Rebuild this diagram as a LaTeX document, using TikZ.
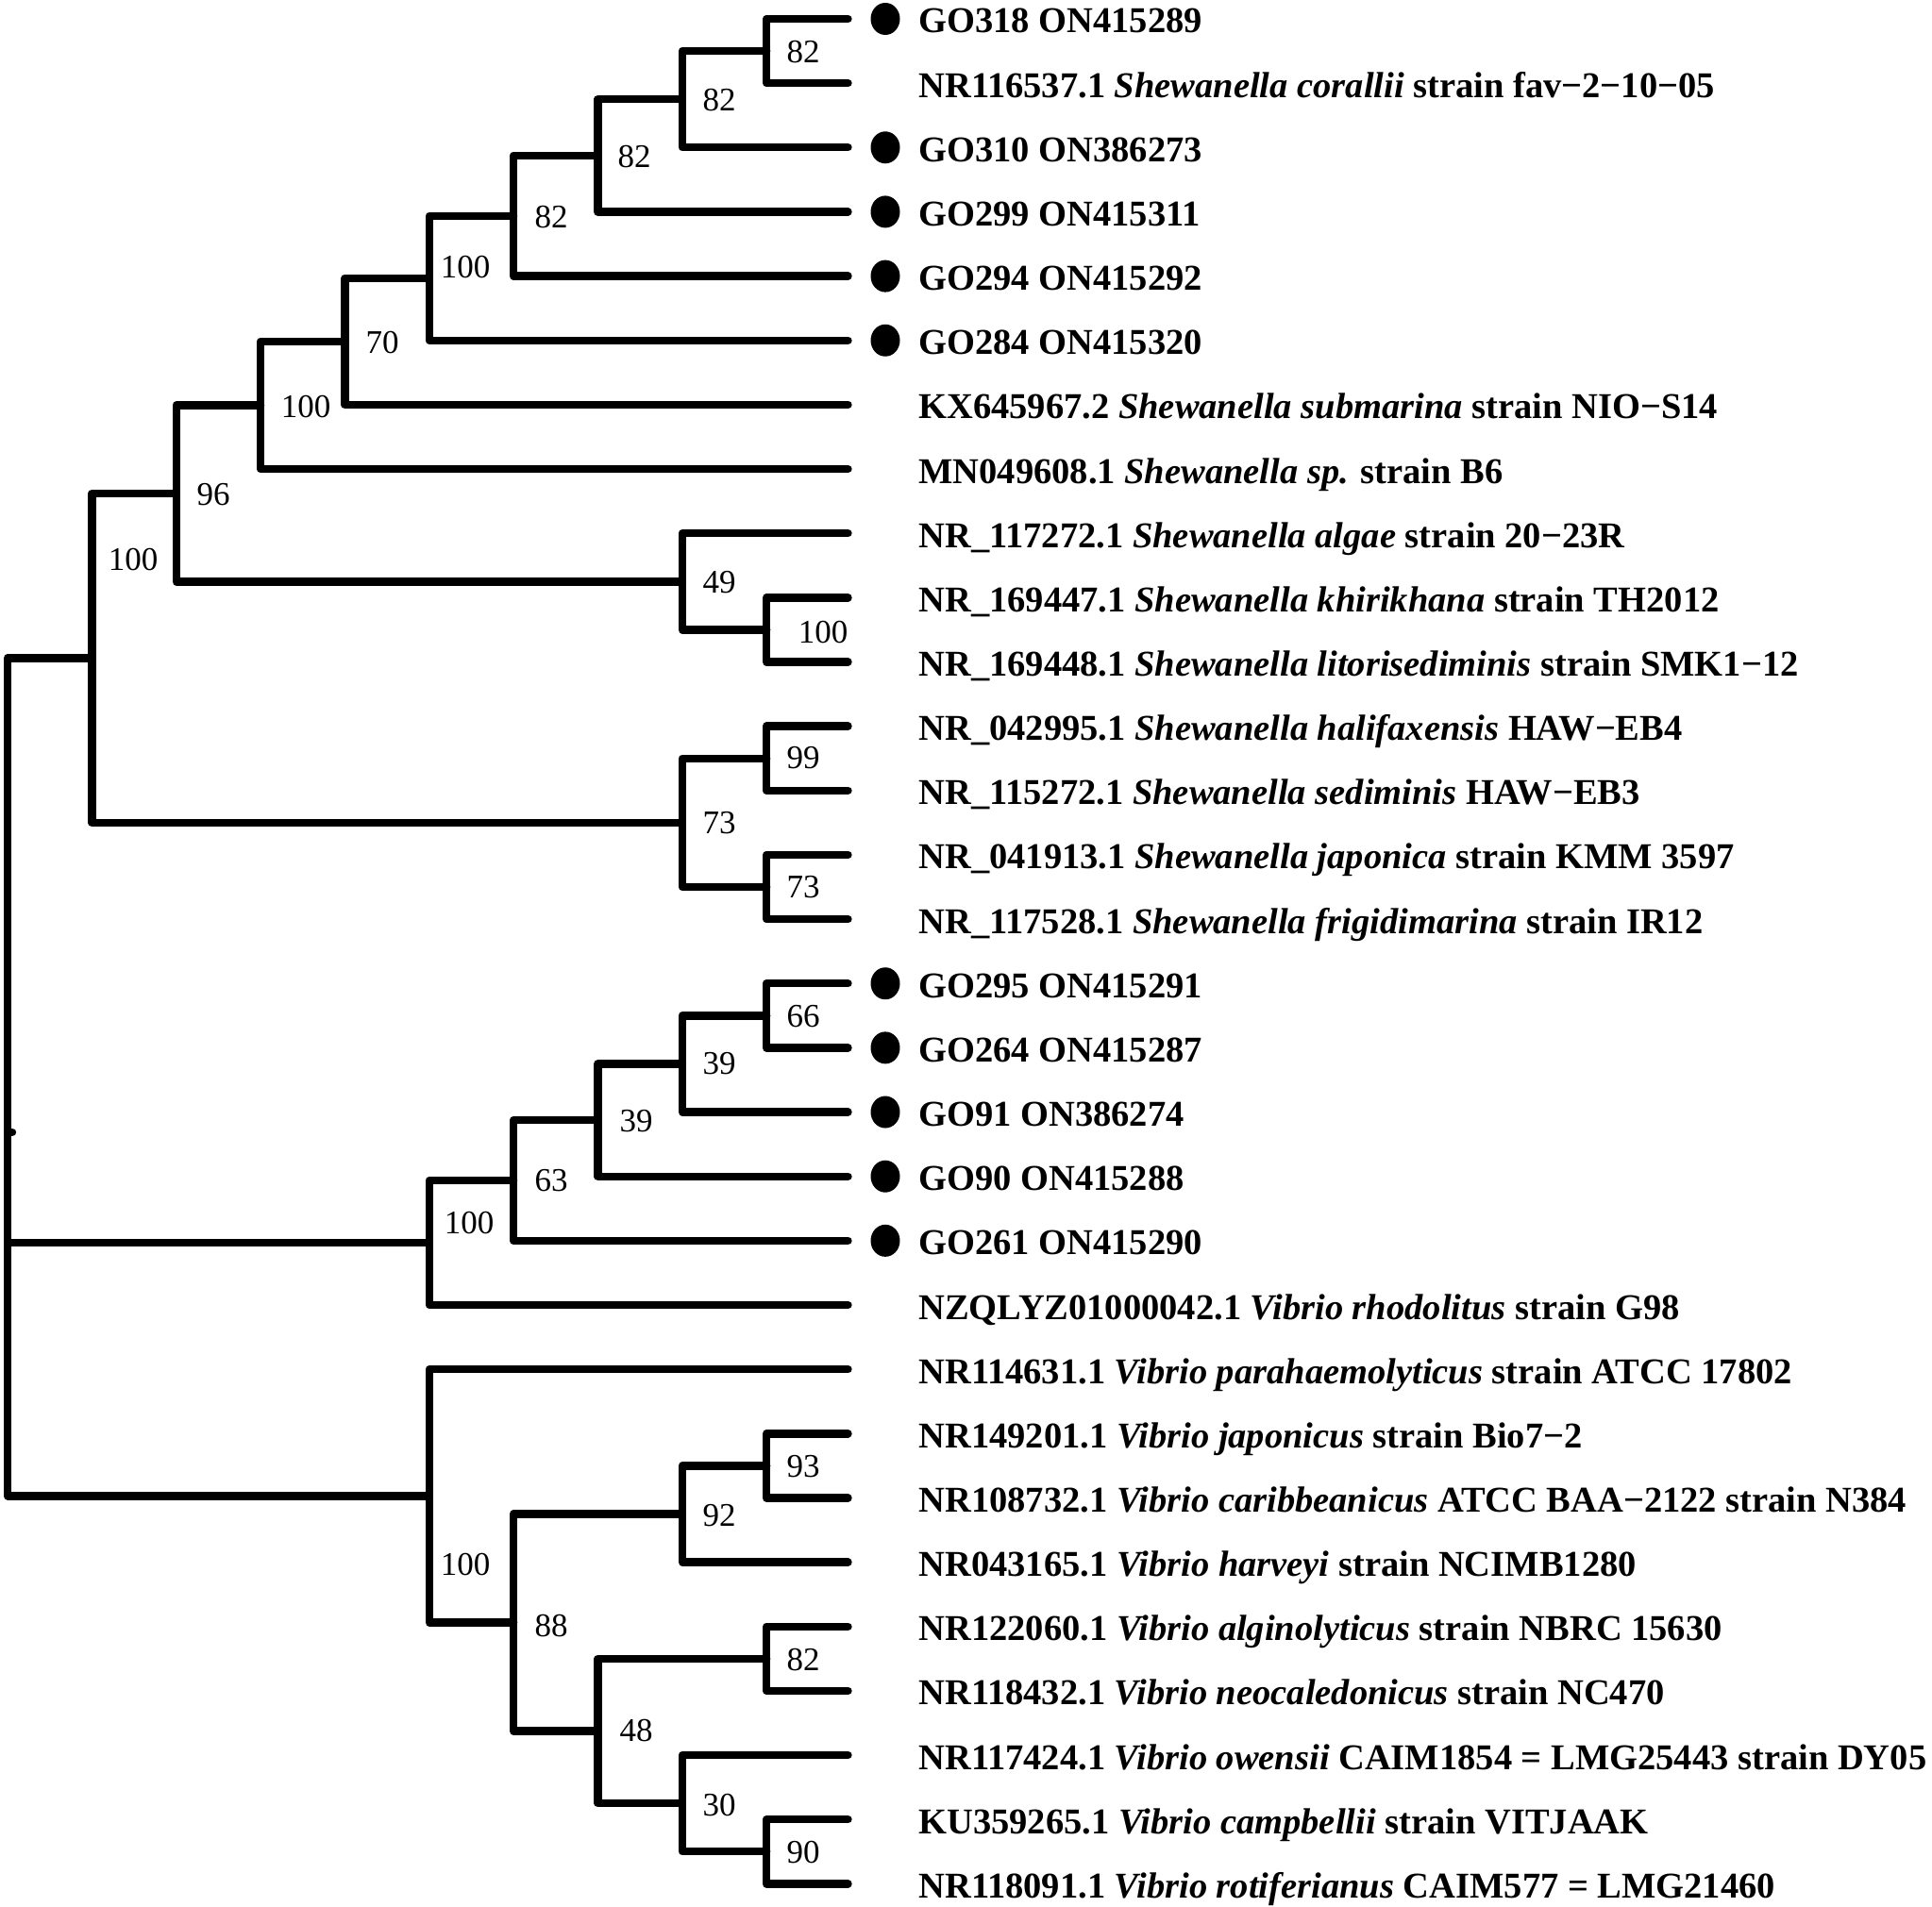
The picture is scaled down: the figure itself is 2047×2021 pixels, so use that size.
\documentclass[tikz,border=0pt]{standalone}
\usepackage{fontspec}
\usetikzlibrary{shapes.geometric}
\setmainfont{Liberation Serif}
\newcommand\Y[1]{20+68.15*(#1)}
\newcommand\X[1]{8+89.35*(#1)}
\begin{document}
\begin{tikzpicture}[x=0.5pt,y=-0.5pt,
  br/.style={line width=4.2pt, line cap=round, line join=round},
  tiplab/.style={anchor=base west, inner sep=0pt, font=\fontsize{19.25}{22}\selectfont\bfseries},
  sup/.style={inner sep=0pt, font=\fontsize{17.5}{20}\selectfont},
  dotm/.style={ellipse, fill=black, inner sep=0pt, minimum width=15.5pt, minimum height=17pt}]
\useasboundingbox (0,0) rectangle (2047,2021);
% tips
\foreach \i in {0,...,29} \coordinate (t\i) at ({\X{10}-3},{\Y{\i}});
% internal nodes
\coordinate (A) at ({\X{9}},{\Y{0.5}});
\coordinate (B) at ({\X{8}},{\Y{1.25}});
\coordinate (C) at ({\X{7}},{\Y{2.125}});
\coordinate (D) at ({\X{6}},{\Y{3.0625}});
\coordinate (E) at ({\X{5}},{\Y{4.03125}});
\coordinate (F) at ({\X{4}},{\Y{5.015625}});
\coordinate (G) at ({\X{3}},{\Y{6.0078125}});
\coordinate (H) at ({\X{9}},{\Y{9.5}});
\coordinate (I) at ({\X{8}},{\Y{8.75}});
\coordinate (N) at ({\X{2}},{\Y{7.37890625}});
\coordinate (J) at ({\X{9}},{\Y{11.5}});
\coordinate (K) at ({\X{9}},{\Y{13.5}});
\coordinate (L) at ({\X{8}},{\Y{12.5}});
\coordinate (O) at ({\X{1}},{\Y{9.939453}});
\coordinate (Q) at ({\X{9}},{\Y{15.5}});
\coordinate (R) at ({\X{8}},{\Y{16.25}});
\coordinate (S) at ({\X{7}},{\Y{17.125}});
\coordinate (T) at ({\X{6}},{\Y{18.0625}});
\coordinate (U) at ({\X{5}},{\Y{19.03125}});
\coordinate (V1) at ({\X{9}},{\Y{22.5}});
\coordinate (V2) at ({\X{8}},{\Y{23.25}});
\coordinate (V3) at ({\X{9}},{\Y{25.5}});
\coordinate (V4) at ({\X{9}},{\Y{28.5}});
\coordinate (V5) at ({\X{8}},{\Y{27.75}});
\coordinate (V6) at ({\X{7}},{\Y{26.625}});
\coordinate (V7) at ({\X{6}},{\Y{24.9375}});
\coordinate (V8) at ({\X{5}},{\Y{22.96875}});
\coordinate (root) at ({\X{0}},{\Y{17.3131}});
\coordinate (rstub) at ({\X{0}+5},{\Y{17.3131}});
% branches
\foreach \p/\c in {root/O, root/U, root/V8, O/N, O/L, N/G, N/I, G/F, G/t7, F/E, F/t6,
  E/D, E/t5, D/C, D/t4, C/B, C/t3, B/A, B/t2, A/t0, A/t1, I/t8, I/H, H/t9, H/t10,
  L/J, L/K, J/t11, J/t12, K/t13, K/t14, U/T, U/t20, T/S, T/t19, S/R, S/t18, R/Q, R/t17,
  Q/t15, Q/t16, V8/t21, V8/V7, V7/V2, V7/V6, V2/V1, V2/t24, V1/t22, V1/t23,
  V6/V3, V6/V5, V3/t25, V3/t26, V5/t27, V5/V4, V4/t28, V4/t29}
  \draw[br] (\p) |- (\c);
\draw[br] (root) -- (rstub);
% dots
\foreach \i in {0,2,3,4,5,15,16,17,18,19} \node[dotm] (d\i) at (938,{\Y{\i}}) {};
% support values
\node[sup] (sA) at (851,55) {82};
\node[sup] (sB) at (762,106) {82};
\node[sup] (sC) at (672,166) {82};
\node[sup] (sD) at (584,230) {82};
\node[sup] (sE) at (493,283) {100};
\node[sup] (sF) at (405,363) {70};
\node[sup] (sG) at (324,431) {100};
\node[sup] (sN) at (226,524) {96};
\node[sup] (sO) at (141,593) {100};
\node[sup] (sI) at (762,617) {49};
\node[sup] (sH) at (872,670) {100};
\node[sup] (sJ) at (851,803) {99};
\node[sup] (sL) at (762,872) {73};
\node[sup] (sK) at (851,940) {73};
\node[sup] (sQ) at (851,1077) {66};
\node[sup] (sR) at (762,1127) {39};
\node[sup] (sS) at (674,1188) {39};
\node[sup] (sT) at (584,1251) {63};
\node[sup] (sU) at (497,1296) {100};
\node[sup] (sV1) at (851,1554) {93};
\node[sup] (sV2) at (762,1606) {92};
\node[sup] (sV8) at (493,1658) {100};
\node[sup] (sV7) at (584,1723) {88};
\node[sup] (sV3) at (851,1759) {82};
\node[sup] (sV6) at (674,1834) {48};
\node[sup] (sV5) at (762,1913) {30};
\node[sup] (sV4) at (851,1963) {90};
% tip labels
\node[tiplab] (l0) at (973,{\Y{0}+15}) {GO318 ON415289};
\node[tiplab] (l1) at (973,{\Y{1}+15}) {NR116537.1 {\itshape Shewanella corallii} strain fav−2−10−05};
\node[tiplab] (l2) at (973,{\Y{2}+15}) {GO310 ON386273};
\node[tiplab] (l3) at (973,{\Y{3}+15}) {GO299 ON415311};
\node[tiplab] (l4) at (973,{\Y{4}+15}) {GO294 ON415292};
\node[tiplab] (l5) at (973,{\Y{5}+15}) {GO284 ON415320};
\node[tiplab] (l6) at (973,{\Y{6}+15}) {KX645967.2 {\itshape Shewanella submarina} strain NIO−S14};
\node[tiplab] (l7) at (973,{\Y{7}+15}) {MN049608.1 {\itshape Shewanella sp.} strain B6};
\node[tiplab] (l8) at (973,{\Y{8}+15}) {NR\_117272.1 {\itshape Shewanella algae} strain 20−23R};
\node[tiplab] (l9) at (973,{\Y{9}+15}) {NR\_169447.1 {\itshape Shewanella khirikhana} strain TH2012};
\node[tiplab] (l10) at (973,{\Y{10}+15}) {NR\_169448.1 {\itshape Shewanella litorisediminis} strain SMK1−12};
\node[tiplab] (l11) at (973,{\Y{11}+15}) {NR\_042995.1 {\itshape Shewanella halifaxensis} HAW−EB4};
\node[tiplab] (l12) at (973,{\Y{12}+15}) {NR\_115272.1 {\itshape Shewanella sediminis} HAW−EB3};
\node[tiplab] (l13) at (973,{\Y{13}+15}) {NR\_041913.1 {\itshape Shewanella japonica} strain KMM 3597};
\node[tiplab] (l14) at (973,{\Y{14}+15}) {NR\_117528.1 {\itshape Shewanella frigidimarina} strain IR12};
\node[tiplab] (l15) at (973,{\Y{15}+15}) {GO295 ON415291};
\node[tiplab] (l16) at (973,{\Y{16}+15}) {GO264 ON415287};
\node[tiplab] (l17) at (973,{\Y{17}+15}) {GO91 ON386274};
\node[tiplab] (l18) at (973,{\Y{18}+15}) {GO90 ON415288};
\node[tiplab] (l19) at (973,{\Y{19}+15}) {GO261 ON415290};
\node[tiplab] (l20) at (973,{\Y{20}+15}) {NZQLYZ01000042.1 {\itshape Vibrio rhodolitus} strain G98};
\node[tiplab] (l21) at (973,{\Y{21}+15}) {NR114631.1 {\itshape Vibrio parahaemolyticus} strain ATCC 17802};
\node[tiplab] (l22) at (973,{\Y{22}+15}) {NR149201.1 {\itshape Vibrio japonicus} strain Bio7−2};
\node[tiplab] (l23) at (973,{\Y{23}+15}) {NR108732.1 {\itshape Vibrio caribbeanicus} ATCC BAA−2122 strain N384};
\node[tiplab] (l24) at (973,{\Y{24}+15}) {NR043165.1 {\itshape Vibrio harveyi} strain NCIMB1280};
\node[tiplab] (l25) at (973,{\Y{25}+15}) {NR122060.1 {\itshape Vibrio alginolyticus} strain NBRC 15630};
\node[tiplab] (l26) at (973,{\Y{26}+15}) {NR118432.1 {\itshape Vibrio neocaledonicus} strain NC470};
\node[tiplab] (l27) at (973,{\Y{27}+15}) {NR117424.1 {\itshape Vibrio owensii} CAIM1854 = LMG25443 strain DY05};
\node[tiplab] (l28) at (973,{\Y{28}+15}) {KU359265.1 {\itshape Vibrio campbellii} strain VITJAAK};
\node[tiplab] (l29) at (973,{\Y{29}+15}) {NR118091.1 {\itshape Vibrio rotiferianus} CAIM577 = LMG21460};
\end{tikzpicture}
\end{document}
